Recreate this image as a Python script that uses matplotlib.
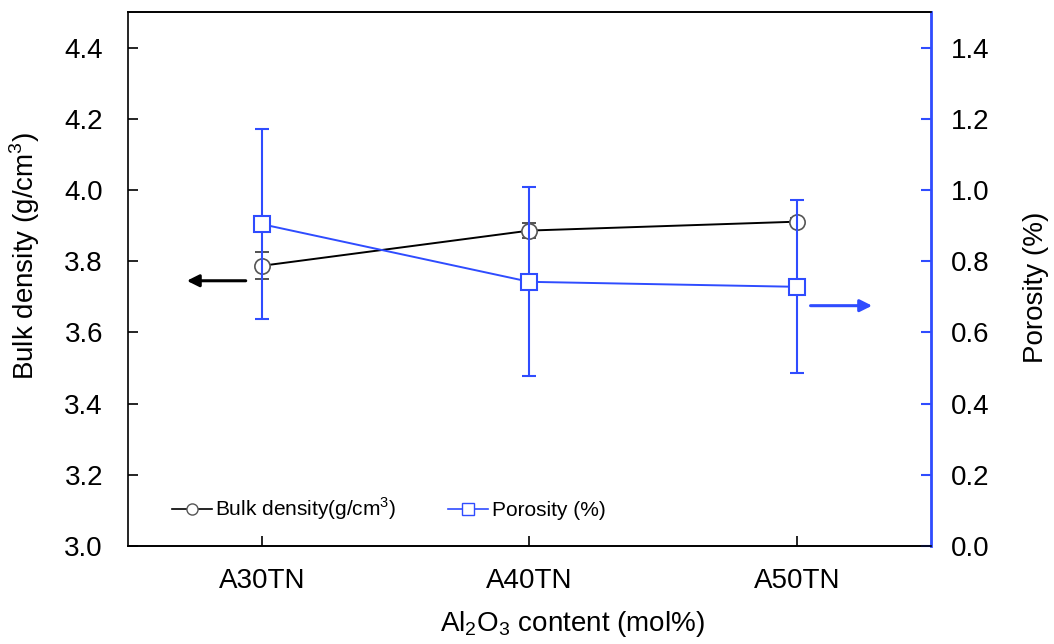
import matplotlib
matplotlib.use("Agg")
import matplotlib.pyplot as plt
from matplotlib.lines import Line2D

plt.rcParams['font.family'] = ['Liberation Sans', 'DejaVu Sans']
plt.rcParams['mathtext.fontset'] = 'custom'
plt.rcParams['mathtext.rm'] = 'Liberation Sans'

categories = ["A30TN", "A40TN", "A50TN"]
density = [3.787, 3.886, 3.911]
density_err = [0.038, 0.02, 0.01]
porosity = [0.904, 0.742, 0.728]
porosity_err = [0.267, 0.265, 0.243]
left_ticks = [3.0, 3.2, 3.4, 3.6, 3.8, 4.0, 4.2, 4.4]
right_ticks = [0.0, 0.2, 0.4, 0.6, 0.8, 1.0, 1.2, 1.4]

blue = '#2f4cff'
x = list(range(len(categories)))

fig = plt.figure(figsize=(10.54, 6.44), dpi=100)
ax = fig.add_axes([0.1214, 0.1522, 0.7619, 0.8292])
ax2 = ax.twinx()

ax.errorbar(x, density, yerr=density_err, color='black', lw=1.4,
            ecolor='#333333', elinewidth=1.2, capsize=5, capthick=1.2,
            marker='o', ms=11, mfc='white', mec='#555555', mew=1.2,
            label='Bulk density(g/cm$^3$)', zorder=3)
ax2.errorbar(x, porosity, yerr=porosity_err, color=blue, lw=1.4,
             ecolor=blue, elinewidth=1.5, capsize=5, capthick=1.5,
             marker='s', ms=12, mfc='white', mec=blue, mew=1.5,
             label='Porosity (%)', zorder=3)

ax.set_xlim(-0.5, 2.5)
ax.set_ylim(3.0, 4.5)
ax2.set_ylim(0.0, 1.5)
ax.set_xticks(x)
ax.set_xticklabels(categories)
ax.set_yticks(left_ticks)
ax.set_yticklabels([f"{v:.1f}" for v in left_ticks])
ax2.set_yticks(right_ticks)
ax2.set_yticklabels([f"{v:.1f}" for v in right_ticks])

ax.tick_params(axis='y', direction='in', length=7, width=1.2, labelsize=20, pad=18)
ax.tick_params(axis='x', direction='in', length=7, width=1.2, labelsize=20, pad=16)
ax2.tick_params(axis='y', direction='in', length=7, width=1.5, color=blue, labelsize=20, pad=14)

for s in ['left', 'bottom', 'top']:
    ax.spines[s].set_linewidth(1.2)
ax2.spines['right'].set_color(blue)
ax2.spines['right'].set_linewidth(2)
ax2.spines['left'].set_visible(False)
ax2.spines['top'].set_linewidth(1.2)
ax2.spines['bottom'].set_linewidth(1.2)

ax.set_ylabel('Bulk density (g/cm$^3$)', fontsize=20)
ax.yaxis.set_label_coords(-0.107, 0.543)
ax2.set_ylabel('Porosity (%)', fontsize=20, rotation=90)
ax2.yaxis.set_label_coords(1.1146, 0.485)
ax.set_xlabel('Al$_2$O$_3$ content (mol%)', fontsize=20)
ax.xaxis.set_label_coords(0.553, -0.118)

ax.annotate('', xy=(-0.28, 3.745), xytext=(-0.06, 3.745),
            arrowprops=dict(arrowstyle='-|>', color='black', lw=2.2,
                            mutation_scale=18, shrinkA=0, shrinkB=0))
ax2.annotate('', xy=(2.28, 0.675), xytext=(2.05, 0.675),
             arrowprops=dict(arrowstyle='-|>', color=blue, lw=2.2,
                             mutation_scale=18, shrinkA=0, shrinkB=0))

h1, l1 = ax.get_legend_handles_labels()
h2, l2 = ax2.get_legend_handles_labels()
lh1 = Line2D([], [], color='black', lw=1.2, marker='o', ms=8, mfc='white', mec='#555555')
lh2 = Line2D([], [], color=blue, lw=1.2, marker='s', ms=9, mfc='white', mec=blue)
leg = ax2.legend([lh1, lh2], l1 + l2, loc='center left', bbox_to_anchor=(0.0548, 0.069),
                 ncol=2, frameon=False, fontsize=15, handlelength=1.92,
                 handletextpad=0.15, columnspacing=2.5, borderpad=0, borderaxespad=0)

fig.savefig('out.png', dpi=100)
